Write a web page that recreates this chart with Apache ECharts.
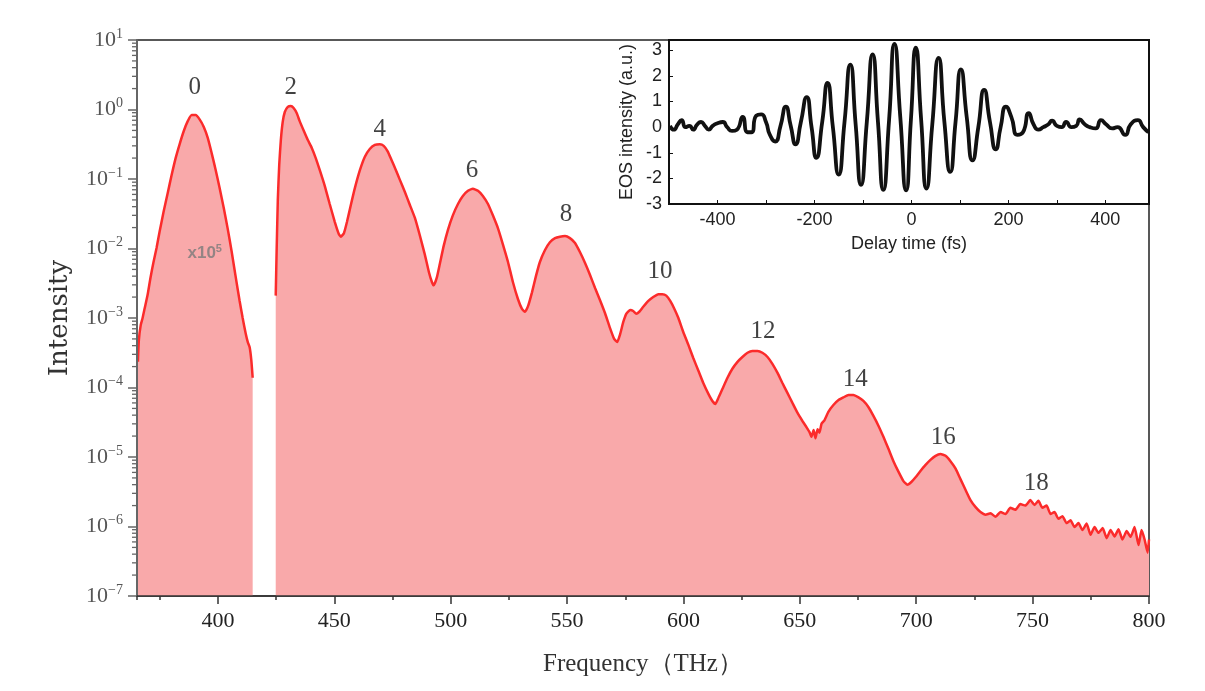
<!DOCTYPE html>
<html><head><meta charset="utf-8">
<script src="https://cdn.jsdelivr.net/npm/echarts@6/dist/echarts.min.js"></script>
<style>html,body{margin:0;padding:0;background:#fff}#c{width:1205px;height:691px}</style>
</head><body><div id="c"></div>
<script>
// ---- Harmonic 0 (displayed x10^5) ----
const zerothFreq = [365.6,366.0,366.8,367.6,368.5,369.8,371.0,372.3,373.6,374.9,376.6,378.4,380.1,381.8,383.5,385.3,387.0,388.7,390.4,392.1,393.9,395.6,397.3,399.0,400.7,402.5,404.2,405.9,407.6,409.3,410.6,411.9,412.8,413.6,414.3,414.9];
const zerothIntensity = [2.35e-4,4.8e-4,7.9e-4,1.0e-3,1.38e-3,2.2e-3,3.8e-3,6.4e-3,1.02e-2,1.74e-2,3.35e-2,6.3e-2,0.115,0.20,0.316,0.49,0.68,0.83,0.83,0.72,0.56,0.39,0.234,0.135,0.074,0.038,0.019,8.9e-3,3.9e-3,1.76e-3,1.0e-3,6.0e-4,4.5e-4,3.8e-4,2.5e-4,1.38e-4];

// ---- Harmonics 2..18 ----
const mainFreq = [424.8,425.2,425.7,426.3,427.0,427.8,428.7,430.0,431.3,432.5,433.8,435.1,436.9,438.6,440.3,442.0,443.7,445.9,448.0,450.2,451.9,452.8,454.1,455.4,457.1,458.8,461.0,463.1,465.2,467.4,469.5,471.2,472.9,474.6,476.4,478.1,480.3,482.4,484.6,486.7,488.9,490.6,491.9,492.7,494.0,495.3,497.0,498.8,500.9,503.1,505.2,507.4,509.5,511.7,513.8,516.0,518.1,520.3,522.4,524.6,526.7,528.9,530.6,531.9,533.2,534.9,536.6,538.3,540.5,542.6,544.8,546.9,549.1,551.2,553.4,555.5,557.7,559.8,562.0,564.1,566.3,568.4,570.2,571.5,572.8,574.1,575.4,577.1,578.4,579.7,581.0,582.7,584.9,587.0,589.2,590.9,592.6,594.3,596.1,597.8,599.9,602.1,604.2,606.4,608.5,610.7,612.4,613.7,615.0,616.7,618.9,621.0,623.2,625.3,627.5,629.6,631.8,633.9,636.1,638.2,640.4,642.5,644.7,646.8,649.0,651.1,652.8,654.1,655.0,655.9,656.7,657.6,658.4,659.3,660.6,662.3,664.4,666.6,668.7,670.9,673.0,675.2,677.3,679.5,681.6,683.8,685.9,688.1,690.2,692.4,694.5,696.2,698.0,699.7,701.8,704.0,706.1,708.3,710.4,712.6,714.7,716.9,719.0,721.2,723.3,725.5,727.6,729.8,731.9,734.1,736.2,738.4,740.4,742.6,744.7,746.9,749.0,750.8,752.5,754.2,756.0,757.7,759.4,761.1,762.8,764.6,766.3,768.0,769.7,771.4,773.2,774.9,776.6,778.3,780.1,781.8,783.5,785.2,786.9,788.6,790.4,792.1,793.8,795.5,796.8,798.1,799.4,800.0];
const mainIntensity = [2.1e-3,9.5e-3,5.0e-2,0.158,0.363,0.66,0.92,1.09,1.12,1.05,0.89,0.68,0.49,0.363,0.28,0.20,0.135,0.079,0.0437,0.024,0.0162,0.0148,0.0166,0.024,0.0427,0.074,0.135,0.209,0.27,0.309,0.316,0.30,0.25,0.186,0.135,0.098,0.065,0.0427,0.0275,0.0155,8.1e-3,4.6e-3,3.3e-3,2.95e-3,3.8e-3,6.0e-3,0.011,0.0186,0.030,0.0437,0.057,0.0676,0.0724,0.0676,0.057,0.0437,0.030,0.0195,0.0115,6.4e-3,3.3e-3,1.86e-3,1.35e-3,1.23e-3,1.48e-3,2.34e-3,4.0e-3,6.4e-3,9.5e-3,0.0123,0.0141,0.0148,0.0151,0.0141,0.012,8.9e-3,6.2e-3,4.2e-3,2.7e-3,1.82e-3,1.17e-3,7.2e-4,5.0e-4,4.5e-4,5.9e-4,8.7e-4,1.15e-3,1.30e-3,1.26e-3,1.15e-3,1.23e-3,1.45e-3,1.76e-3,2.0e-3,2.2e-3,2.2e-3,2.1e-3,1.76e-3,1.35e-3,1.0e-3,6.3e-4,4.1e-4,2.66e-4,1.74e-4,1.16e-4,8.1e-5,6.4e-5,5.8e-5,7.1e-5,9.5e-5,1.38e-4,1.86e-4,2.34e-4,2.75e-4,3.16e-4,3.35e-4,3.35e-4,3.16e-4,2.75e-4,2.19e-4,1.62e-4,1.16e-4,8.3e-5,6.0e-5,4.3e-5,3.3e-5,2.7e-5,2.3e-5,1.95e-5,2.45e-5,1.86e-5,2.5e-5,2.24e-5,3.0e-5,3.4e-5,4.5e-5,5.6e-5,6.6e-5,7.2e-5,7.8e-5,7.8e-5,7.2e-5,6.4e-5,5.2e-5,3.9e-5,2.8e-5,1.95e-5,1.30e-5,8.7e-6,6.1e-6,4.5e-6,4.0e-6,4.4e-6,5.1e-6,6.3e-6,7.7e-6,9.1e-6,1.04e-5,1.10e-5,1.04e-5,8.7e-6,6.8e-6,4.8e-6,3.35e-6,2.4e-6,1.9e-6,1.62e-6,1.48e-6,1.55e-6,1.38e-6,1.62e-6,1.51e-6,1.86e-6,1.74e-6,2.1e-6,2.0e-6,2.4e-6,2.04e-6,2.34e-6,1.86e-6,2.0e-6,1.51e-6,1.62e-6,1.29e-6,1.41e-6,1.12e-6,1.23e-6,9.8e-7,1.12e-6,8.9e-7,1.10e-6,7.6e-7,9.8e-7,8.1e-7,9.5e-7,6.8e-7,8.9e-7,7.2e-7,9.1e-7,6.5e-7,8.6e-7,7.1e-7,9.8e-7,5.4e-7,8.9e-7,6.5e-7,4.2e-7,6.5e-7];

// ---- Harmonic order annotations (data coordinates) ----
const orderLabels = ['0','2','4','6','8','10','12','14','16','18'];
const orderLabelFreq = [390.0,431.3,469.5,509.1,549.5,589.9,634.2,673.8,711.6,751.6];
const orderLabelLevel = [2.1,2.1,0.51,0.135,0.031,4.74e-3,6.5e-4,1.32e-4,1.94e-5,4.2e-6];
const scaleNotePos = [394.3, 8.6e-3];

// ---- Inset: EOS trace ----
const eosDelay = [-498,-490,-482,-474,-466,-458,-450,-442,-434,-426,-418,-410,-400,-389,-380,-370,-360,-348,-338,-330,-320,-310,-300,-292,-281,-270,-259,-249,-239,-228,-216,-206,-196,-184,-173,-162,-150,-138,-126,-115,-104,-92,-80,-69,-58,-46,-35,-23,-11,-1,9,20,31,43,56,68,80,91,102,114,126,138,150,162,174,184,195,206,219,230,242,252,262,272,282,290,300,310,319,330,340,347,358,368,380,391,402,414,425,441,452,467,478,489];
const eosIntensity = [0.05,-0.1,0.1,0.27,0.0,0.05,-0.1,0.1,0.2,0.05,-0.1,0.05,0.15,0.2,0.0,-0.15,-0.1,0.4,-0.2,-0.2,0.45,0.5,0.2,-0.3,-0.56,0.05,0.8,0.05,-0.67,0.2,1.17,0.0,-1.2,0.2,1.73,0.0,-1.85,0.2,2.44,0.1,-2.25,0.2,2.84,0.2,-2.45,0.3,3.25,0.4,-2.47,0.3,3.1,0.3,-2.4,0.1,2.7,0.2,-1.75,0.2,2.25,0.4,-1.3,0.0,1.45,0.2,-0.87,0.0,0.8,0.4,-0.3,-0.2,0.55,0.1,-0.1,0.0,0.1,0.25,0.05,0.0,0.2,0.0,0.05,0.3,0.1,0.0,-0.05,0.27,0.1,-0.05,0.0,-0.3,0.1,0.27,0.0,-0.2];

const zip = (a, b) => a.map((v, i) => [v, b[i]]);

const X_MIN = 365.2, X_MAX = 800;
const minorTickData = [];
for (let k = -7; k < 1; k++) for (let m = 2; m <= 9; m++) minorTickData.push([X_MIN, m * Math.pow(10, k)]);

const serif = 'Liberation Serif';
const sans = 'Liberation Sans';
const chart = echarts.init(document.getElementById('c'), null, {renderer: 'canvas'});

const supFmt = v => {
  const e = Math.round(Math.log10(v));
  return '{b|10}{s|' + (e < 0 ? '\u2212' + (-e) : e) + '}';
};

chart.setOption({
  animation: false,
  grid: [
    {left: 137, right: 56, top: 40, bottom: 95, show: true, borderColor: '#222', borderWidth: 1.5, backgroundColor: 'transparent'},
    {left: 669, right: 56, top: 40, bottom: 487, show: true, borderColor: '#111', borderWidth: 2, backgroundColor: '#fff', z: 5}
  ],
  xAxis: [
    {type: 'value', gridIndex: 0, min: X_MIN, max: X_MAX, minInterval: 50, maxInterval: 50, z: 10,
     axisLine: {show: true, onZero: false, lineStyle: {color: '#333', width: 1.5}},
     axisTick: {show: true, length: 8, lineStyle: {color: '#333', width: 1.5}},
     axisLabel: {showMinLabel: false, color: '#222', fontFamily: serif, fontSize: 22, margin: 14},
     splitLine: {show: false},
     name: 'Frequency\uFF08THz\uFF09', nameLocation: 'middle', nameGap: 56,
     nameTextStyle: {fontFamily: serif, fontSize: 25, color: '#333'}},
    {type: 'value', gridIndex: 0, min: X_MIN, max: X_MAX, minInterval: 25, maxInterval: 25, position: 'bottom', z: 10,
     axisLine: {show: false, onZero: false}, axisLabel: {show: false}, splitLine: {show: false},
     axisTick: {show: true, length: 4, lineStyle: {color: '#333', width: 1.5}}},
    {type: 'value', gridIndex: 1, min: -500, max: 490, interval: 100, z: 10,
     axisLine: {show: true, onZero: false, lineStyle: {color: '#111', width: 2}},
     axisTick: {show: true, inside: true, length: 4, lineStyle: {color: '#111'}},
     axisLabel: {color: '#222', fontFamily: sans, fontSize: 18, margin: 7,
       formatter: v => (v % 200 === 0 && Math.abs(v) < 500) ? String(v) : ''},
     splitLine: {show: false},
     name: 'Delay time (fs)', nameLocation: 'middle', nameGap: 31,
     nameTextStyle: {fontFamily: sans, fontSize: 18, color: '#222'}}
  ],
  yAxis: [
    {type: 'log', logBase: 10, gridIndex: 0, min: 1e-7, max: 10, z: 10,
     axisLine: {show: true, onZero: false, lineStyle: {color: '#666', width: 2}},
     axisTick: {show: true, length: 9, lineStyle: {color: '#666', width: 1.5}},
     axisLabel: {formatter: supFmt, margin: 14,
       rich: {b: {fontFamily: serif, fontSize: 22, color: '#555'},
              s: {fontFamily: serif, fontSize: 14, color: '#555', padding: [0, 0, 12, 0]}}},
     splitLine: {show: false},
     name: 'Intensity', nameLocation: 'middle', nameGap: 64, nameRotate: 90,
     nameTextStyle: {fontFamily: 'DejaVu Serif', fontSize: 26, color: '#333'}},
    {type: 'value', gridIndex: 1, min: -3, max: 3.4, interval: 1, z: 10,
     axisLine: {show: true, onZero: false, lineStyle: {color: '#111', width: 2}},
     axisTick: {show: true, inside: true, length: 4, lineStyle: {color: '#111'}},
     axisLabel: {color: '#222', fontFamily: sans, fontSize: 18, margin: 7,
       formatter: v => Number.isInteger(v) ? String(v) : ''},
     splitLine: {show: false},
     name: 'EOS intensity (a.u.)', nameLocation: 'middle', nameGap: 33, nameRotate: 90,
     nameTextStyle: {fontFamily: sans, fontSize: 18, color: '#222'}}
  ],
  series: [
    {type: 'line', name: 'H0 x1e5', xAxisIndex: 0, yAxisIndex: 0, data: zip(zerothFreq, zerothIntensity),
     showSymbol: false, smooth: 0.2, lineStyle: {color: '#fb2b2b', width: 2.5},
     areaStyle: {color: '#f9a9aa', opacity: 1, origin: 'start'}, z: 2},
    {type: 'line', name: 'harmonics', xAxisIndex: 0, yAxisIndex: 0, data: zip(mainFreq, mainIntensity),
     showSymbol: false, smooth: 0.15, lineStyle: {color: '#fb2b2b', width: 2.5},
     areaStyle: {color: '#f9a9aa', opacity: 1, origin: 'start'}, z: 2},
    {type: 'custom', xAxisIndex: 0, yAxisIndex: 0, data: minorTickData, silent: true, clip: false, z: 10,
     renderItem: (params, api) => {
       const p = api.coord([api.value(0), api.value(1)]);
       return {type: 'line', shape: {x1: p[0] - 5, y1: p[1], x2: p[0], y2: p[1]}, style: {stroke: '#666', lineWidth: 1.3}};
     }},
    {type: 'scatter', xAxisIndex: 0, yAxisIndex: 0, symbolSize: 1, silent: true, z: 12,
     itemStyle: {color: 'rgba(0,0,0,0)'},
     data: orderLabels.map((t, i) => ({name: t, value: [orderLabelFreq[i], orderLabelLevel[i]]})),
     label: {show: true, position: 'inside', formatter: p => p.name, fontFamily: serif, fontSize: 25, color: '#111'}},
    {type: 'scatter', xAxisIndex: 0, yAxisIndex: 0, symbolSize: 1, silent: true, z: 12,
     itemStyle: {color: 'rgba(0,0,0,0)'},
     data: [{value: scaleNotePos}],
     label: {show: true, position: 'inside', formatter: '{a|x10}{s|5}',
       rich: {a: {fontFamily: sans, fontWeight: 'bold', fontSize: 17, color: '#7a7a7a'},
              s: {fontFamily: sans, fontWeight: 'bold', fontSize: 11, color: '#7a7a7a', padding: [0, 0, 9, 0]}}}},
    {type: 'line', name: 'EOS', xAxisIndex: 2, yAxisIndex: 1, data: zip(eosDelay, eosIntensity),
     showSymbol: false, smooth: 0.6, lineStyle: {color: '#111', width: 3.8}, z: 6}
  ]
});
</script>
</body></html>
